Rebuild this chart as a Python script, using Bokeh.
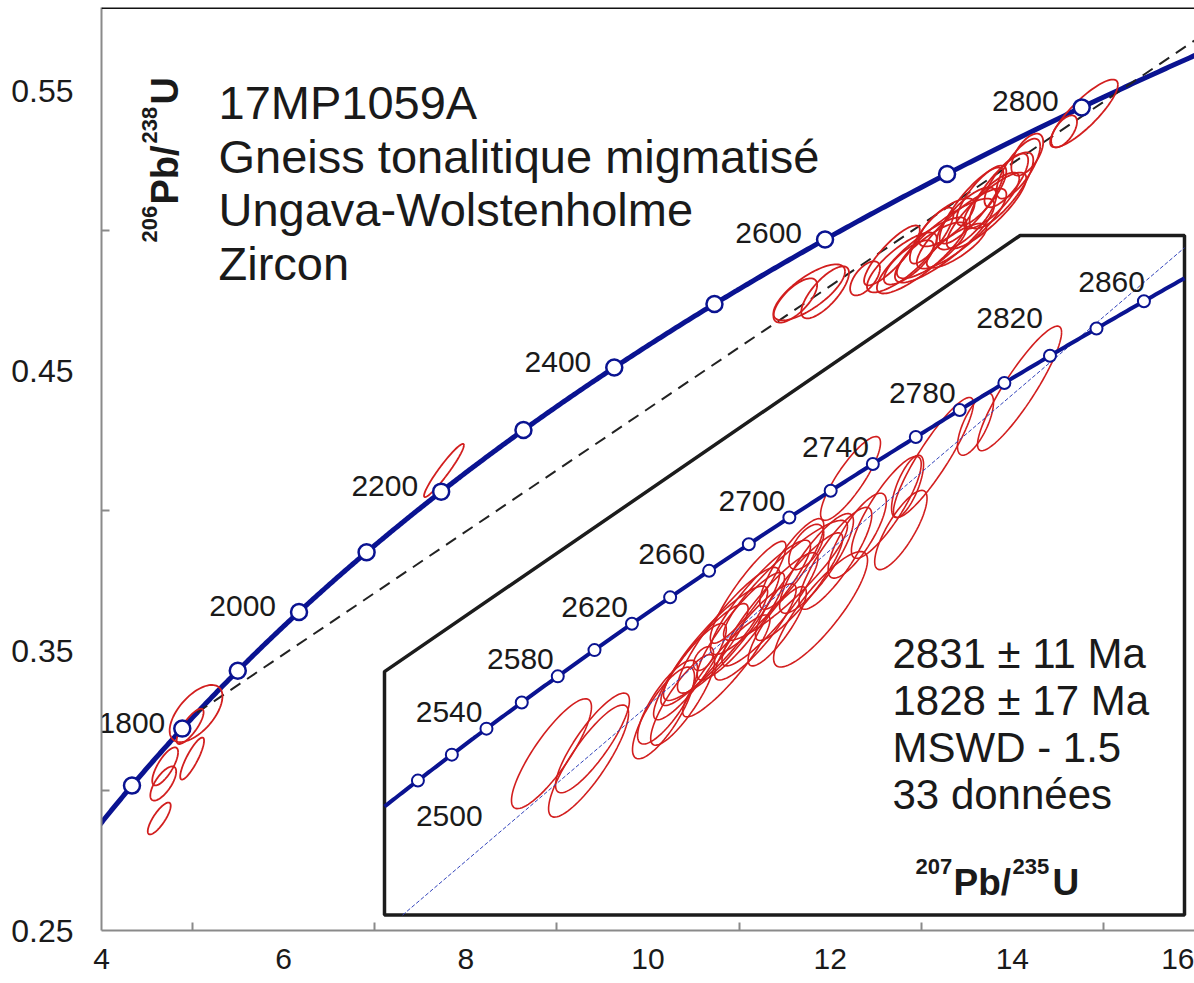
import numpy as np
from bokeh.plotting import figure
from bokeh.models import FixedTicker, Span
from bokeh.core.properties import value
from bokeh.embed import file_html
from bokeh.resources import INLINE

# ---------------- data ----------------
L238 = 1.55125e-4   # decay constants per Ma
L235 = 9.8485e-4

MAIN_MARK_AGES = [1700, 1800, 1900, 2000, 2100, 2200, 2300, 2400, 2500, 2600, 2700, 2800]
MAIN_LABEL_AGES = [1800, 2000, 2200, 2400, 2600, 2800]
INSET_MARK_AGES = [2500, 2520, 2540, 2560, 2580, 2600, 2620, 2640, 2660, 2680,
                   2700, 2720, 2740, 2760, 2780, 2800, 2820, 2840, 2860]
INSET_LABEL_AGES = [2500, 2540, 2580, 2620, 2660, 2700, 2740, 2780, 2820, 2860]
UPPER_AGE = 2831
LOWER_AGE = 1828

X_TICKS = [4, 6, 8, 10, 12, 14, 16]
X_MINOR = [5, 7, 9, 11, 13, 15]
Y_TICKS = [0.25, 0.35, 0.45, 0.55]
Y_MINOR = [0.30, 0.40, 0.50]

# main-plot error ellipses: centre, half-extent in x and y, correlation
main_x = [5.038, 4.973, 4.995, 4.699, 4.678, 4.634, 7.760,
          11.770, 11.617, 11.945, 12.383, 12.787, 13.005, 13.257, 13.443, 13.497, 13.716,
          13.279, 13.770, 13.880, 14.164, 14.568, 14.787, 13.115, 13.552, 13.934, 12.863,
          13.115, 14.066, 12.678, 13.388, 13.661]
main_y = [0.3275, 0.3229, 0.3114, 0.3086, 0.3025, 0.2900, 0.4143,
          0.4779, 0.4750, 0.4779, 0.4829, 0.4886, 0.4911, 0.4964, 0.5007, 0.5043, 0.5071,
          0.5029, 0.5107, 0.5143, 0.5271, 0.5354, 0.5418, 0.4929, 0.5089, 0.5179, 0.4886,
          0.4982, 0.5221, 0.4911, 0.4946, 0.5125]
main_ex = [0.290, 0.148, 0.131, 0.142, 0.142, 0.126, 0.219,
           0.393, 0.240, 0.262, 0.164, 0.383, 0.492, 0.546, 0.492, 0.328, 0.437,
           0.306, 0.306, 0.350, 0.175, 0.142, 0.372, 0.383, 0.350, 0.240, 0.273,
           0.240, 0.240, 0.306, 0.328, 0.273]
main_ey = [0.0102, 0.0063, 0.0075, 0.0068, 0.0061, 0.0057, 0.0095,
           0.0100, 0.0079, 0.0093, 0.0061, 0.0107, 0.0136, 0.0150, 0.0143, 0.0111, 0.0136,
           0.0086, 0.0100, 0.0136, 0.0075, 0.0057, 0.0121, 0.0100, 0.0136, 0.0096, 0.0079,
           0.0100, 0.0107, 0.0107, 0.0079, 0.0107]
main_rho = [0.60, 0.80, 0.85, 0.75, 0.70, 0.80, 0.95,
            0.75, 0.70, 0.75, 0.60, 0.80, 0.85, 0.85, 0.85, 0.75, 0.85,
            0.75, 0.80, 0.80, 0.60, 0.60, 0.85, 0.80, 0.85, 0.75, 0.75,
            0.80, 0.75, 0.85, 0.80, 0.80]

# inset error ellipses (inset data units)
ins_x = [11.648, 11.903, 11.930, 12.418, 12.446, 12.776, 12.865, 13.085, 13.257, 13.498,
         13.470, 12.693, 13.704, 14.096, 14.563, 14.866, 14.274, 12.950, 13.150, 12.700,
         13.350, 13.050, 12.850, 13.600, 13.300, 12.600, 13.750, 13.950, 13.400, 13.200,
         14.050, 12.550, 13.000]
ins_y = [0.4785, 0.4772, 0.4804, 0.4857, 0.4876, 0.4980, 0.5003, 0.5061, 0.5091, 0.5040,
         0.5121, 0.4953, 0.5271, 0.5257, 0.5367, 0.5430, 0.5308, 0.5010, 0.5040, 0.4960,
         0.5080, 0.5000, 0.4940, 0.5130, 0.5120, 0.4930, 0.5170, 0.5220, 0.5150, 0.5010,
         0.5180, 0.4880, 0.5070]
ins_ex = [0.275, 0.275, 0.254, 0.213, 0.206, 0.358, 0.351, 0.344, 0.426, 0.323,
          0.254, 0.069, 0.206, 0.110, 0.124, 0.289, 0.275, 0.300, 0.330, 0.300,
          0.300, 0.280, 0.300, 0.250, 0.220, 0.250, 0.200, 0.240, 0.120, 0.200,
          0.180, 0.220, 0.260]
ins_ey = [0.0097, 0.0099, 0.0088, 0.0081, 0.0074, 0.0101, 0.0111, 0.0101, 0.0106, 0.0102,
          0.0088, 0.0021, 0.0074, 0.0055, 0.0055, 0.0110, 0.0106, 0.0095, 0.0100, 0.0090,
          0.0095, 0.0085, 0.0090, 0.0090, 0.0080, 0.0085, 0.0075, 0.0090, 0.0040, 0.0070,
          0.0070, 0.0080, 0.0090]
ins_rho = [0.85, 0.85, 0.85, 0.80, 0.80, 0.90, 0.90, 0.90, 0.90, 0.85,
           0.85, 0.50, 0.85, 0.70, 0.70, 0.90, 0.90, 0.90, 0.90, 0.90,
           0.90, 0.88, 0.90, 0.85, 0.85, 0.88, 0.80, 0.85, 0.60, 0.85,
           0.80, 0.85, 0.90]

TITLE_LINES = ["17MP1059A", "Gneiss tonalitique migmatisé", "Ungava-Wolstenholme", "Zircon"]
RESULT_LINES = ["2831 ± 11 Ma", "1828 ± 17 Ma", "MSWD - 1.5", "33 données"]

# ---------------- helpers ----------------
FONT = value("Liberation Sans")
TXT = "#1a1a1a"
BLUE = "#0a1391"
RED = "#d21e1e"


def conc(t):
    return np.exp(L235 * np.asarray(t, float)) - 1.0, np.exp(L238 * np.asarray(t, float)) - 1.0


def ell(cx, cy, ex, ey, r, n=90):
    t = np.linspace(0, 2 * np.pi, n)
    return cx + ex * np.cos(t), cy + ey * (r * np.cos(t) + np.sqrt(1 - r * r) * np.sin(t))


# frame geometry (pixels) -> data helpers for annotation placement
FL, FB, FT, W, H = 101, 930, 7, 1194, 983
X0, X1, Y0 = 4.0, 16.0, 0.25
XPU = (W - FL) / (X1 - X0)
YPU = 2800.0
Y1 = Y0 + (FB - FT) / YPU


def dx(px):
    return X0 + (px - FL) / XPU


def dy(py):
    return Y0 + (FB - py) / YPU


# inset window (its own data space) and placement in the main plot
IX0, IX1, IY0, IY1 = 10.5, 16.0, 0.45, 0.57
ICUT_X, ICUT_Y = 14.87, 0.493
MX0, MX1, MY0, MY1 = dx(384), dx(1184), dy(914.6), dy(235)


def ix(a):
    return MX0 + (np.asarray(a, float) - IX0) * (MX1 - MX0) / (IX1 - IX0)


def iy(b):
    return MY0 + (np.asarray(b, float) - IY0) * (MY1 - MY0) / (IY1 - IY0)


# ---------------- figure ----------------
p = figure(width=W, height=H, x_range=(X0, X1), y_range=(Y0, Y1),
           output_backend="svg", toolbar_location=None,
           min_border_left=FL, min_border_right=0, min_border_top=FT,
           min_border_bottom=H - FB)
p.grid.visible = False
p.outline_line_color = None
p.background_fill_color = "white"
p.border_fill_color = "white"

for ax, ticks, minor in ((p.xaxis[0], X_TICKS, X_MINOR), (p.yaxis[0], Y_TICKS, Y_MINOR)):
    ax.ticker = FixedTicker(ticks=ticks, minor_ticks=minor)
    ax.axis_line_color = "#8a8a8a"
    ax.axis_line_width = 2
    ax.major_tick_in = 0
    ax.major_tick_out = 0
    ax.minor_tick_in = 8
    ax.minor_tick_out = 0
    ax.minor_tick_line_color = "#8a8a8a"
    ax.minor_tick_line_width = 2
    ax.major_label_text_font = "Liberation Sans"
    ax.major_label_text_color = TXT
p.xaxis.major_label_text_font_size = "30px"
p.yaxis.major_label_text_font_size = "32px"
p.xaxis.major_label_standoff = 18
p.yaxis.major_label_standoff = 28

p.add_layout(Span(location=Y1, dimension="width", line_color="#111111", line_width=3))

# main concordia
tt = np.linspace(1600, 2950, 600)
cx_, cy_ = conc(tt)
p.line(cx_, cy_, line_color=BLUE, line_width=5)

# main discordia (dashed) from lower intercept to the frame edge
lx, ly = conc([LOWER_AGE, UPPER_AGE])
slope = (ly[1] - ly[0]) / (lx[1] - lx[0])
p.line([lx[0], X1], [ly[0], ly[0] + slope * (X1 - lx[0])],
       line_color="#222222", line_width=2, line_dash="12 8")

# main ellipses
xs, ys = [], []
for i in range(len(main_x)):
    ex_, ey_ = ell(main_x[i], main_y[i], main_ex[i], main_ey[i], main_rho[i])
    xs.append(ex_)
    ys.append(ey_)
p.multi_line(xs, ys, line_color=RED, line_width=1.8)

mx, my = conc(MAIN_MARK_AGES)
p.scatter(mx, my, size=16, marker="circle", fill_color="white", line_color=BLUE, line_width=2.5)
lxm, lym = conc(MAIN_LABEL_AGES)
main_xo = [-17 if a == 1800 else -23 for a in MAIN_LABEL_AGES]
p.text(lxm, lym, text=[str(a) for a in MAIN_LABEL_AGES], x_offset=main_xo, y_offset=-6,
       text_align="right", text_baseline="alphabetic", text_font=FONT,
       text_font_size="30px", text_color=TXT)

# title block
for k, line in enumerate(TITLE_LINES):
    p.text([dx(218)], [dy(102 + 53.5 * k)], text=[line], text_align="left",
           text_baseline="alphabetic", text_font=FONT, text_font_size="47px", text_color=TXT)

# y axis title: 206Pb/238U (rotated)
ypieces = [("206", 149, 242, "22px"), ("Pb/", 164, 204, "38px"), ("238", 149, 143, "22px"),
           ("U", 164, 104, "38px")]
for txt, px_, py_, fs in ypieces:
    p.text([dx(px_)], [dy(py_)], text=[txt], angle=np.pi / 2, text_align="left",
           text_baseline="alphabetic", text_font=FONT, text_font_style="bold",
           text_font_size=fs, text_color=TXT)

# ---------------- inset ----------------
box_a = [IX0, IX1, IX1, ICUT_X, IX0]
box_b = [IY0, IY0, IY1, IY1, ICUT_Y]
p.patch(ix(box_a), iy(box_b), fill_color="white", line_color="#1c1c1c", line_width=3.5)

# inset ellipses
xs, ys = [], []
for i in range(len(ins_x)):
    ea, eb = ell(ins_x[i], ins_y[i], ins_ex[i], ins_ey[i], ins_rho[i])
    xs.append(ix(ea))
    ys.append(iy(eb))
p.multi_line(xs, ys, line_color=RED, line_width=1.6)

# inset discordia (clipped to the inset window)
a_start = lx[0] + (IY0 - ly[0]) / slope
a_end = IX1
p.line(ix([a_start, a_end]), iy([ly[0] + slope * (a_start - lx[0]), ly[0] + slope * (a_end - lx[0])]),
       line_color="#3344bb", line_width=1, line_dash="4 2")

# inset concordia
t_lo = np.log(1 + IX0) / L235
t_hi = np.log(1 + IX1) / L235
ti = np.linspace(t_lo, t_hi, 300)
ca, cb = conc(ti)
p.line(ix(ca), iy(cb), line_color=BLUE, line_width=4)
ima, imb = conc(INSET_MARK_AGES)
p.scatter(ix(ima), iy(imb), size=12, marker="circle", fill_color="white", line_color=BLUE, line_width=2)

la, lb = conc(INSET_LABEL_AGES)
xo, yo, al = [], [], []
for a in INSET_LABEL_AGES:
    if a == 2500:
        xo.append(-2); yo.append(35); al.append("left")
    elif a == 2820:
        xo.append(-7); yo.append(-38); al.append("right")
    elif a == 2860:
        xo.append(1); yo.append(-19); al.append("right")
    else:
        xo.append(-4); yo.append(-17); al.append("right")
p.text(ix(la), iy(lb), text=[str(a) for a in INSET_LABEL_AGES], x_offset=xo, y_offset=yo,
       text_align=al, text_baseline="alphabetic", text_font=FONT, text_font_size="30px",
       text_color=TXT)

for k, line in enumerate(RESULT_LINES):
    p.text([dx(892)], [dy(653 + 47 * k)], text=[line], text_align="left",
           text_baseline="alphabetic", text_font=FONT, text_font_size="42px", text_color=TXT)

xpieces = [("207", 915, 866, "22px"), ("Pb/", 953, 882, "37px"), ("235", 1012, 866, "22px"),
           ("U", 1052, 882, "37px")]
for txt, px_, py_, fs in xpieces:
    p.text([dx(px_)], [dy(py_)], text=[txt], text_align="left", text_baseline="alphabetic",
           text_font=FONT, text_font_style="bold", text_font_size=fs, text_color=TXT)

open("out.html", "w").write(file_html(p, INLINE))
